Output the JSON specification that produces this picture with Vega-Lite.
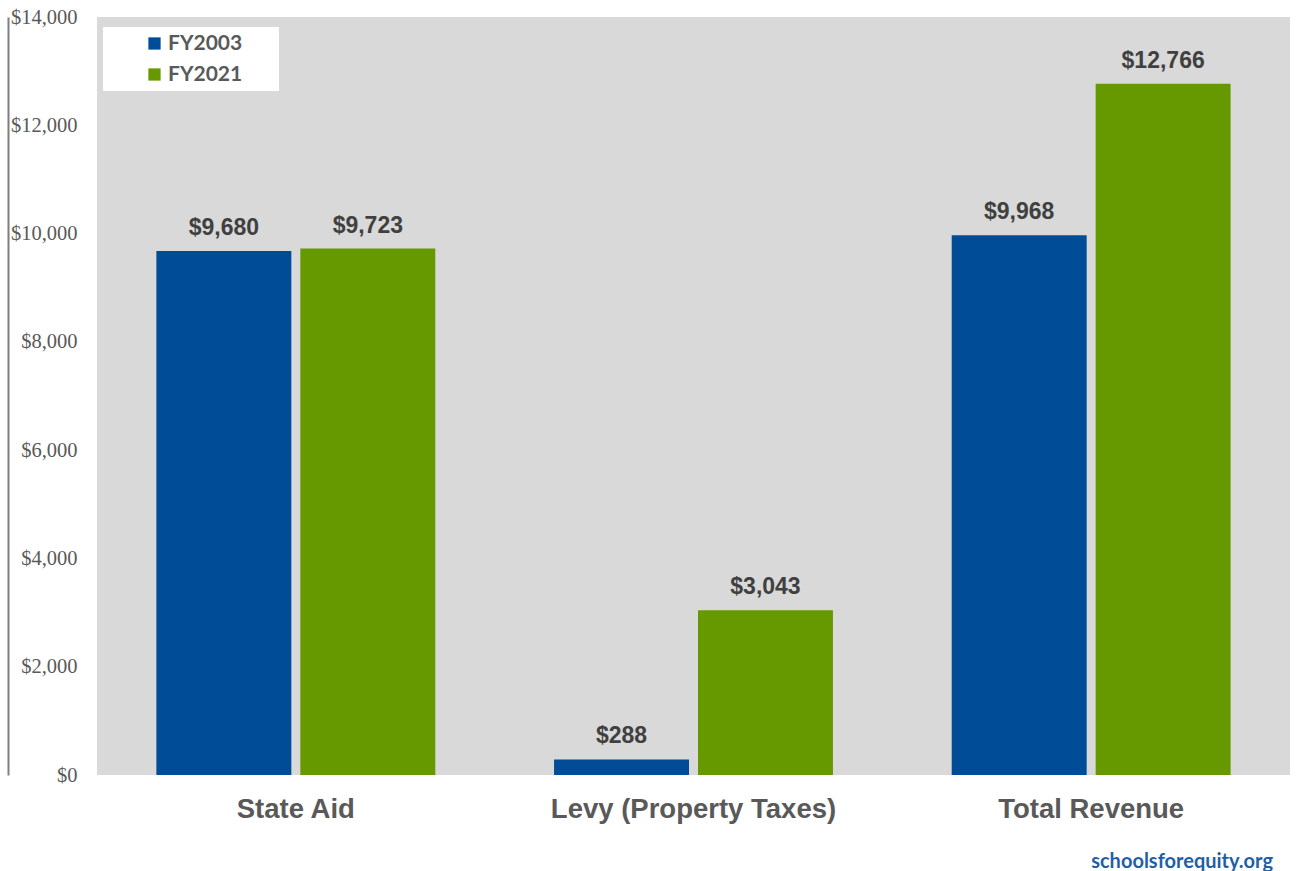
{
  "$schema": "https://vega.github.io/schema/vega-lite/v6.json",
  "width": 1193,
  "height": 758,
  "autosize": {"type": "none"},
  "padding": {"left": 97, "top": 17, "right": 9, "bottom": 96},
  "background": "white",
  "config": {"view": {"fill": "#d9d9d9", "stroke": null}},
  "title": {
    "text": "schoolsforequity.org",
    "orient": "bottom",
    "anchor": "end",
    "dx": -17,
    "offset": 29,
    "font": "Lato",
    "fontSize": 20,
    "fontWeight": "bold",
    "color": "#1f5fa8"
  },
  "data": {
    "values": [
      {"category": "State Aid", "year": "FY2003", "value": 9680},
      {"category": "State Aid", "year": "FY2021", "value": 9723},
      {"category": "Levy (Property Taxes)", "year": "FY2003", "value": 288},
      {"category": "Levy (Property Taxes)", "year": "FY2021", "value": 3043},
      {"category": "Total Revenue", "year": "FY2003", "value": 9968},
      {"category": "Total Revenue", "year": "FY2021", "value": 12766}
    ]
  },
  "encoding": {
    "x": {
      "field": "category",
      "type": "nominal",
      "sort": ["State Aid", "Levy (Property Taxes)", "Total Revenue"],
      "scale": {"paddingInner": 0.276, "paddingOuter": 0.138},
      "axis": {
        "title": null,
        "domain": false,
        "ticks": false,
        "labelAngle": 0,
        "labelLimit": 0,
        "labelFont": "Liberation Sans",
        "labelFontSize": 27.5,
        "labelFontWeight": "bold",
        "labelColor": "#595959",
        "labelPadding": 20
      }
    },
    "xOffset": {
      "field": "year",
      "type": "nominal",
      "scale": {"paddingInner": 0.0625, "paddingOuter": 0.03125}
    }
  },
  "layer": [
    {
      "mark": {"type": "bar"},
      "encoding": {
        "y": {
          "field": "value",
          "type": "quantitative",
          "scale": {"domain": [0, 14000]},
          "axis": {
            "title": null,
            "values": [0, 2000, 4000, 6000, 8000, 10000, 12000, 14000],
            "format": "$,.0f",
            "grid": false,
            "ticks": false,
            "domain": false,
            "labelFont": "Liberation Serif",
            "labelFontSize": 20.5,
            "labelColor": "#595959",
            "labelPadding": 20
          }
        },
        "color": {
          "field": "year",
          "type": "nominal",
          "scale": {"domain": ["FY2003", "FY2021"], "range": ["#004c97", "#669900"]},
          "legend": {
            "title": null,
            "orient": "none",
            "legendX": 6,
            "legendY": 10,
            "fillColor": "white",
            "padding": 6,
            "symbolType": "square",
            "symbolSize": 150,
            "symbolStrokeWidth": 0,
            "symbolOpacity": 1,
            "symbolOffset": 35,
            "labelOffset": 3,
            "labelFont": "Lato",
            "labelFontSize": 21,
            "labelFontWeight": "bold",
            "labelColor": "#595959",
            "rowPadding": 9,
            "labelExpr": "datum.label + '\u00a0\u00a0\u00a0\u00a0\u00a0\u00a0\u200b'"
          }
        }
      }
    },
    {
      "mark": {
        "type": "text",
        "baseline": "bottom",
        "dy": -11,
        "font": "Liberation Sans",
        "fontSize": 23,
        "fontWeight": "bold",
        "color": "#404040"
      },
      "encoding": {
        "y": {
          "field": "value",
          "type": "quantitative",
          "axis": {
            "orient": "left",
            "offset": 89,
            "title": null,
            "labels": false,
            "ticks": false,
            "grid": false,
            "domain": true,
            "domainColor": "#7f7f7f",
            "domainWidth": 2
          }
        },
        "text": {"field": "value", "type": "quantitative", "format": "$,.0f"}
      }
    }
  ],
  "resolve": {"axis": {"y": "independent"}}
}
